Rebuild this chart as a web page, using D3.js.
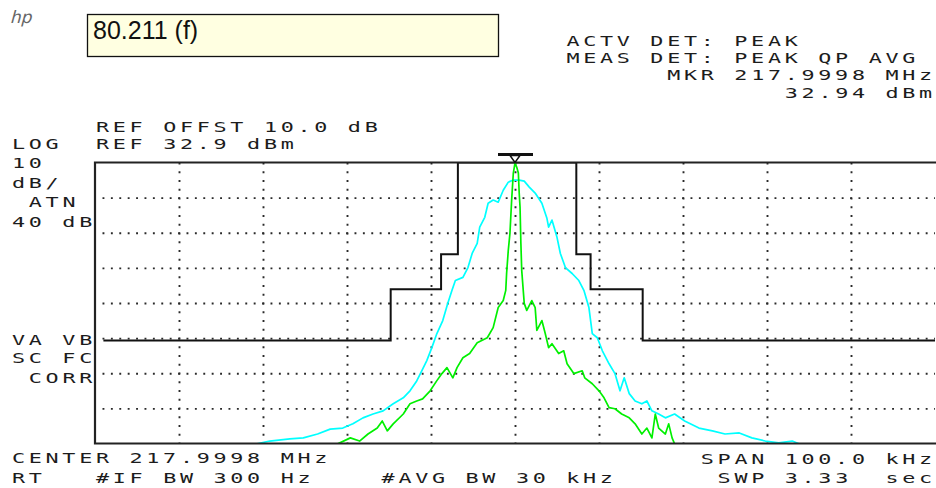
<!DOCTYPE html>
<html>
<head>
<meta charset="utf-8">
<script src="https://cdn.jsdelivr.net/npm/d3@7"></script>
<style>
  body { margin: 0; background: #fff; }
  svg { display: block; }
</style>
</head>
<body>
<svg id="chart"></svg>
<script>
// trace readings, offset from center (kHz) and level (dBm)
const cyanKHz = [-30.7,-29.2,-26.8,-25.2,-23.5,-22.0,-20.5,-19.3,-18.1,-16.9,-15.7,-14.5,-13.3,-12.5,-11.7,-11.1,-10.5,-9.9,-9.3,-8.6,-8.0,-7.5,-7.1,-6.2,-5.6,-5.1,-4.5,-4.2,-3.6,-3.2,-2.6,-2.0,-1.4,-0.8,-0.2,
  0.5,1.1,1.7,2.4,3.2,3.8,4.0,4.4,5.0,5.4,6.0,6.8,7.6,8.2,8.8,9.2,9.8,10.4,11.2,11.9,12.5,13.0,13.6,14.3,15.1,15.7,16.3,17.1,17.9,19.0,20.2,21.9,23.5,25.0,26.7,28.2,29.8,31.4,33.0,33.8];
const cyanDbm = [-47.2,-46.4,-45.8,-45.5,-44.4,-43.0,-42.7,-41.5,-39.8,-38.7,-37.8,-35.8,-34.1,-32.1,-29.3,-26.4,-23.5,-19.8,-15.8,-12.1,-7.2,-3.5,-0.7,0.2,3.0,7.0,9.9,14.5,17.3,21.3,22.2,21.6,25.0,27.3,27.9,
  27.9,27.6,25.9,24.2,21.3,17.0,14.5,16.5,11.6,7.0,3.0,1.3,-0.7,-3.5,-8.4,-15.8,-17.0,-20.7,-24.4,-27.2,-32.1,-28.4,-32.9,-35.0,-35.8,-35.0,-37.8,-38.7,-39.8,-38.7,-40.7,-42.7,-43.5,-44.4,-44.1,-45.5,-46.4,-46.9,-46.4,-47.2];

const greenKHz = [-21.1,-19.6,-18.5,-17.5,-16.4,-15.8,-15.2,-14.5,-13.3,-12.5,-11.7,-11.0,-10.1,-9.3,-8.7,-8.1,-7.4,-6.9,-6.2,-5.4,-4.5,-3.3,-2.6,-2.0,-1.4,-1.1,-1.0,-0.8,-0.6,-0.4,-0.2,0,
  0.2,0.4,0.5,0.6,0.7,0.8,1.1,1.4,2.0,2.4,2.6,3.2,3.6,4.0,4.4,5.2,5.8,6.2,7.0,8.0,8.3,9.2,10.0,10.6,11.2,11.9,12.7,13.6,14.3,15.1,15.7,16.3,16.7,17.1,17.9,18.3,18.7,19.0];
const greenDbm = [-47.2,-45.5,-46.4,-44.4,-42.7,-40.7,-43.5,-41.5,-38.7,-35.8,-35.0,-34.4,-32.1,-29.2,-27.2,-25.5,-28.4,-25.5,-22.7,-21.5,-18.4,-17.0,-14.1,-8.4,-6.4,-3.5,1.3,7.9,12.8,22.2,29.9,32.8,
  31.6,29.9,24.2,20.2,9.9,2.2,-7.2,-9.2,-6.4,-8.4,-14.9,-12.1,-15.8,-19.8,-18.7,-21.5,-20.7,-24.4,-27.2,-26.4,-28.4,-30.1,-32.1,-34.1,-36.9,-37.2,-38.7,-39.8,-41.5,-44.4,-42.7,-45.5,-38.7,-42.7,-44.4,-41.5,-45.5,-47.2];

// limit mask: step edges (kHz) and the level that starts at each edge (dBm)
const limitEdges = [-49, -14.8, -8.8, -6.8, 7.3, 9.0, 15.2, 50];
const limitLevels = [-17.8, -3.2, 6.8, 32.9, 6.8, -3.2, -17.8, -17.8];

// marker
const markerKHz = 0;
const markerDbm = 32.94;

// screen settings
const refLevel = 32.9;
const dbPerDiv = 10;
const vDivs = 8;
const spanKHz = 100;

const infoText = "80.211 (f)";
const headerLines = ["ACTV DET: PEAK", "MEAS DET: PEAK QP AVG", "MKR 217.9998 MHz", "32.94 dBm"];
const leftLines = ["LOG", "10", "dB/", "ATN", "40 dB", "VA VB", "SC FC", "CORR"];
const refLines = ["REF OFFST 10.0 dB", "REF 32.9 dBm"];
const footerLines = ["CENTER 217.9998 MHz", "RT", "#IF BW 300 Hz", "#AVG BW 30 kHz", "SPAN 100.0 kHz", "SWP 3.33  sec"];

const width = 936;
const height = 488;
const plotLeft = 95, plotRight = 935, plotTop = 162.5, plotBottom = 443.5;

const svg = d3.select("#chart")
  .attr("width", width)
  .attr("height", height);

svg.append("rect").attr("width", width).attr("height", height).attr("fill", "#fff");

const xScale = d3.scaleLinear()
  .domain([-spanKHz / 2, spanKHz / 2])
  .range([plotLeft, plotRight]);

const yScale = d3.scaleLinear()
  .domain([refLevel - dbPerDiv * vDivs, refLevel])
  .range([plotBottom, plotTop]);

// dotted graticule
const xGrid = d3.axisBottom(xScale)
  .tickValues(d3.range(-40, 41, 10))
  .tickSize(-(plotBottom - plotTop))
  .tickFormat("");

const yGrid = d3.axisLeft(yScale)
  .tickValues(d3.range(1, vDivs).map(i => refLevel - i * dbPerDiv))
  .tickSize(-(plotRight - plotLeft))
  .tickFormat("");

const gx = svg.append("g")
  .attr("transform", `translate(0, ${plotBottom})`)
  .call(xGrid);
gx.select(".domain").remove();
gx.selectAll("line")
  .attr("stroke", "#2a2a2a")
  .attr("stroke-width", 1.9)
  .attr("stroke-dasharray", "1.9 6.85")
  .attr("stroke-dashoffset", 0.95);

const gy = svg.append("g")
  .attr("transform", `translate(${plotLeft}, 0)`)
  .call(yGrid);
gy.select(".domain").remove();
gy.selectAll("line")
  .attr("stroke", "#2a2a2a")
  .attr("stroke-width", 1.9)
  .attr("stroke-dasharray", "1.9 6.5")
  .attr("stroke-dashoffset", -7.5);

// clip for traces
svg.append("clipPath").attr("id", "plot")
  .append("rect")
  .attr("x", plotLeft).attr("y", plotTop)
  .attr("width", width - plotLeft).attr("height", plotBottom - plotTop);

const line = d3.line()
  .x(d => xScale(d[0]))
  .y(d => yScale(d[1]));

const plot = svg.append("g").attr("clip-path", "url(#plot)");

// limit line
plot.append("path")
  .datum(limitEdges.map((e, i) => [e, limitLevels[i]]))
  .attr("d", line.curve(d3.curveStepAfter))
  .attr("fill", "none")
  .attr("stroke", "#111")
  .attr("stroke-width", 2);

line.curve(d3.curveLinear);

plot.append("path")
  .datum(cyanKHz.map((k, i) => [k, cyanDbm[i]]))
  .attr("d", line)
  .attr("fill", "none")
  .attr("stroke", "#00ffff")
  .attr("stroke-width", 1.7)
  .attr("stroke-linejoin", "round");

plot.append("path")
  .datum(greenKHz.map((k, i) => [k, greenDbm[i]]))
  .attr("d", line)
  .attr("fill", "none")
  .attr("stroke", "#00f000")
  .attr("stroke-width", 1.7)
  .attr("stroke-linejoin", "round");

// frame: left, top and bottom edges
const frame = svg.append("g").attr("stroke", "#222").attr("stroke-width", 2.2).attr("fill", "none");
frame.append("path").attr("d", `M${width},${plotTop}H${plotLeft}V${plotBottom}H${width}`);

// marker
const mx = xScale(markerKHz);
const my = yScale(Math.min(markerDbm, refLevel));
svg.append("line")
  .attr("x1", mx - 17).attr("x2", mx + 18)
  .attr("y1", my - 8).attr("y2", my - 8)
  .attr("stroke", "#111").attr("stroke-width", 3);
svg.append("path")
  .attr("d", `M${mx - 5},${my - 7}L${mx + 5},${my - 7}L${mx},${my}Z`)
  .attr("fill", "#fff")
  .attr("stroke", "#111")
  .attr("stroke-width", 1.5);

// analyzer text on a character grid
const pitch = 16.8, sx = 1.5, fs = 14.5;
const colX = c => 12 + c * pitch;

function label(str, col, y) {
  svg.append("text")
    .attr("transform", `translate(${colX(col)}, ${y}) scale(${sx}, 1)`)
    .style("font-family", "'DejaVu Sans Mono', monospace")
    .style("font-size", fs + "px")
    .style("letter-spacing", (pitch / sx - 0.602 * fs) + "px")
    .style("white-space", "pre")
    .attr("fill", "#1c1c1c")
    .text(str);
}

label(headerLines[0], 33, 46);
label(headerLines[1], 33, 63);
label(headerLines[2], 39, 80);
label(headerLines[3], 46, 98);

label(refLines[0], 5, 132);
label(refLines[1], 5, 149);

label(leftLines[0], 0, 149);
label(leftLines[1], 0, 168);
label(leftLines[2], 0, 188);
label(leftLines[3], 1, 207);
label(leftLines[4], 0, 227);
label(leftLines[5], 0, 345);
label(leftLines[6], 0, 363);
label(leftLines[7], 1, 383);

label(footerLines[0], 0, 463);
label(footerLines[1], 0, 483);
label(footerLines[2], 5, 483);
label(footerLines[3], 22, 483);
label(footerLines[4], 41, 464);
label(footerLines[5], 42, 483);

// hp logo
svg.append("text")
  .attr("x", 11).attr("y", 23)
  .attr("transform", "skewX(-15)")
  .attr("dx", 5)
  .style("font-family", "'DejaVu Sans', sans-serif")
  .style("font-size", "17px")
  .attr("fill", "#666")
  .text("hp");

// info box
svg.append("rect")
  .attr("x", 87.5).attr("y", 14.5)
  .attr("width", 411).attr("height", 42)
  .attr("fill", "#ffffe1")
  .attr("stroke", "#111")
  .attr("stroke-width", 1.3);

svg.append("text")
  .attr("x", 93).attr("y", 39)
  .style("font-family", "'Liberation Sans', Arial, sans-serif")
  .style("font-size", "25px")
  .attr("fill", "#111")
  .text(infoText);
</script>
</body>
</html>
